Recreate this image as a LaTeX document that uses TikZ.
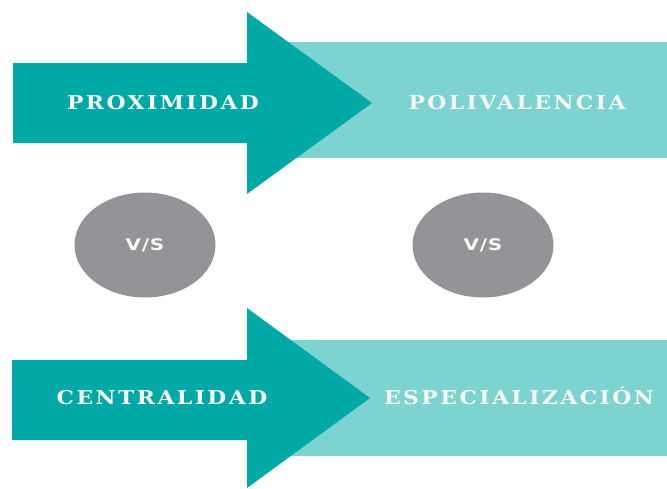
\documentclass[tikz,border=0pt]{standalone}
\usepackage{fontspec}
\setmainfont{Liberation Serif}
\newfontfamily\arrowlblfont[FakeStretch=1.15,LetterSpace=13]{DejaVu Serif}
\newfontfamily\vslblfont[FakeStretch=1.25,LetterSpace=5]{DejaVu Sans}
\usetikzlibrary{shapes.geometric}
\definecolor{darkteal}{HTML}{00A9A6}
\definecolor{lightteal}{HTML}{7DD3D0}
\definecolor{vsgray}{HTML}{939498}
\definecolor{lbltext}{HTML}{F8F8F2}
\begin{document}
\begin{tikzpicture}[x=1pt,y=-1pt,
  lbl/.style={text=lbltext,inner sep=0,anchor=base,font=\arrowlblfont\fontsize{19}{22}\selectfont\bfseries},
  vslbl/.style={text=lbltext,inner sep=0,font=\vslblfont\fontsize{16}{18}\selectfont\bfseries},
  vsell/.style={ellipse,fill=vsgray,minimum width=141,minimum height=105,inner sep=0}]
\useasboundingbox (0,0) rectangle (667,488);
% top row
\fill[lightteal] (260,42) rectangle (667,158);
\fill[darkteal] (13,63) -- (247,63) -- (247,12) -- (372,103) -- (247,194) -- (247,143) -- (13,143) -- cycle;
\node[lbl] (prox) at (163,109.5) {PROXIMIDAD};
\node[lbl] (poli) at (517,109.5) {POLIVALENCIA};
% middle
\path (145,245) node[vsell] (vs1) {};
\node[vslbl] (vs1t) at (vs1) {V/S};
\path (483,245) node[vsell] (vs2) {};
\node[vslbl] (vs2t) at (vs2) {V/S};
% bottom row
\fill[lightteal] (260,340) rectangle (667,456);
\fill[darkteal] (12,360) -- (247,360) -- (247,308) -- (370,398) -- (247,488) -- (247,440) -- (12,440) -- cycle;
\node[lbl] (cent) at (162,404.5) {CENTRALIDAD};
\node[lbl] (espe) at (519,404.5) {ESPECIALIZACIÓN};
\end{tikzpicture}
\end{document}
